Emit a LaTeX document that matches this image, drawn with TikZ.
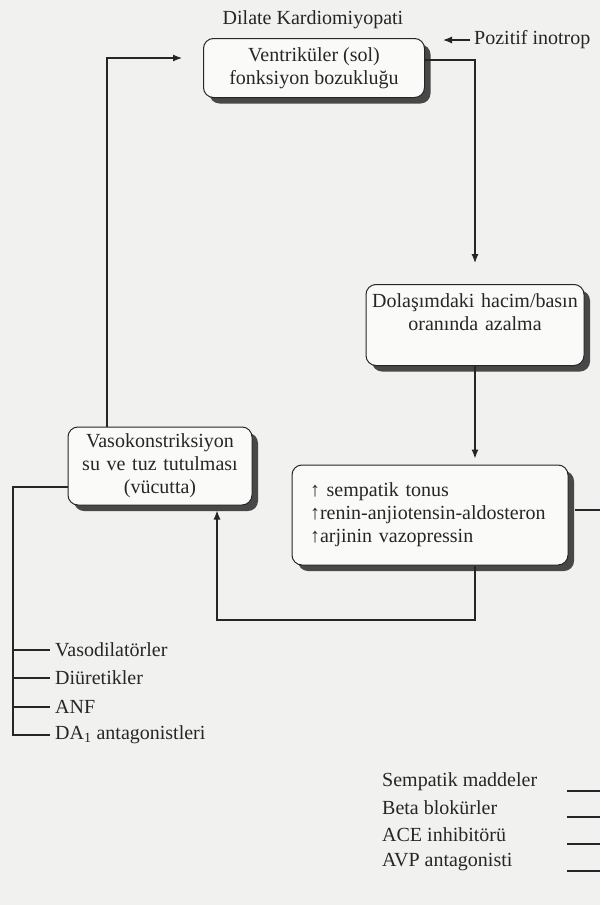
\documentclass[tikz,border=0pt]{standalone}
\usepackage{fontspec}
\setmainfont{Liberation Serif}
\usepackage{xcolor}
\usepackage{tikz}
\usetikzlibrary{arrows.meta,shadows}
\definecolor{paper}{RGB}{241,241,239}
\definecolor{boxwhite}{RGB}{250,250,249}
\definecolor{inkgray}{RGB}{38,38,38}
\definecolor{shadowgray}{RGB}{72,72,72}

\begin{document}
\begin{tikzpicture}[x=1pt, y=-1pt,
  font=\fontsize{20}{23}\selectfont, text=inkgray,
  >={Latex[length=9pt,width=7pt]},
  flow/.style={draw=inkgray, line width=1.2pt},
  mechbox/.style={draw=inkgray, line width=1pt, rounded corners=10pt, fill=boxwhite, align=center,
    drop shadow={shadow xshift=6pt, shadow yshift=-6pt, fill=shadowgray, opacity=1}},
  drug/.style={anchor=west, inner xsep=5pt, inner ysep=0pt}]
% Page of the scan
\useasboundingbox (0,0) rectangle (600,905);
\fill[paper] (0,0) rectangle (600,905);

% Boxes of the cycle
\node (title) at (313,20) {Dilate Kardiomiyopati};
\node[mechbox, minimum width=221pt, minimum height=59pt] (ventr) at (314,68) {Ventriküler (sol)\\fonksiyon bozukluğu};
\node[anchor=west, inner xsep=4pt] (poz) at (470,40) {Pozitif inotrop};
\node[mechbox, text width=216pt, inner xsep=1pt, minimum height=81pt] (dolas) at (475,325) {Dolaşımdaki hacim/basın\\oranında azalma\\[2pt]~};
\node[mechbox, text width=172pt, inner xsep=6pt, minimum height=78pt] (vaso) at (160,466) {Vasokonstriksiyon\\su ve tuz tutulması\\(vücutta)};
\node[mechbox, align=left, text width=240pt, inner xsep=18pt, minimum height=100pt] (semp) at (430,515) {↑ sempatik tonus\\↑renin-anjiotensin-aldosteron\\↑arjinin vazopressin};

% Drugs, left and right
\node[drug] (vdil) at (50,650) {Vasodilatörler};
\node[drug] (diur) at (50,678) {Diüretikler};
\node[drug] (anf) at (50,707) {ANF};
\node[drug] (daant) at (50,735) {DA\textsubscript{1} antagonistleri};
\node[drug] (smad) at (377,782) {Sempatik maddeler};
\node[drug] (beta) at (377,808) {Beta blokürler};
\node[drug] (ace) at (377,835) {ACE inhibitörü};
\node[drug] (avp) at (377,862) {AVP antagonisti};

\coordinate (vin) at (182,58);
\coordinate (ptip) at (443,40);
\coordinate (trunk) at (13,487);
\coordinate (loop) at (217,620);
\coordinate (redge) at (600,510);
\coordinate (rtick) at (567,0);

% Connecting arrows
\draw[flow,->] ([xshift=-53pt]vaso.north) |- (vin);
\draw[flow,->] (poz.west) -- (ptip);
\draw[flow,->] ([yshift=8pt]ventr.east) -| ([yshift=21pt]dolas.north);
\draw[flow,->] (dolas.south) -- ([yshift=6pt]semp.north -| dolas.south);
\draw[flow,->] (semp.south -| dolas.south) |- (loop) -- ([yshift=-5pt]vaso.south -| loop);
\draw[flow] ([shift={(6pt,5pt)}]semp.east) -- (redge);

% Ticks to the drugs
\draw[flow] (vaso.west |- trunk) -- (trunk) |- (daant.west);
\draw[flow] (trunk |- vdil.west) -- (vdil.west);
\draw[flow] (trunk |- diur.west) -- (diur.west);
\draw[flow] (trunk |- anf.west) -- (anf.west);
\draw[flow] ([yshift=-9pt]rtick |- smad.west) -- ([yshift=-9pt]redge |- smad.west);
\draw[flow] ([yshift=-9pt]rtick |- beta.west) -- ([yshift=-9pt]redge |- beta.west);
\draw[flow] ([yshift=-9pt]rtick |- ace.west) -- ([yshift=-9pt]redge |- ace.west);
\draw[flow] ([yshift=-9pt]rtick |- avp.west) -- ([yshift=-9pt]redge |- avp.west);
\end{tikzpicture}
\end{document}
